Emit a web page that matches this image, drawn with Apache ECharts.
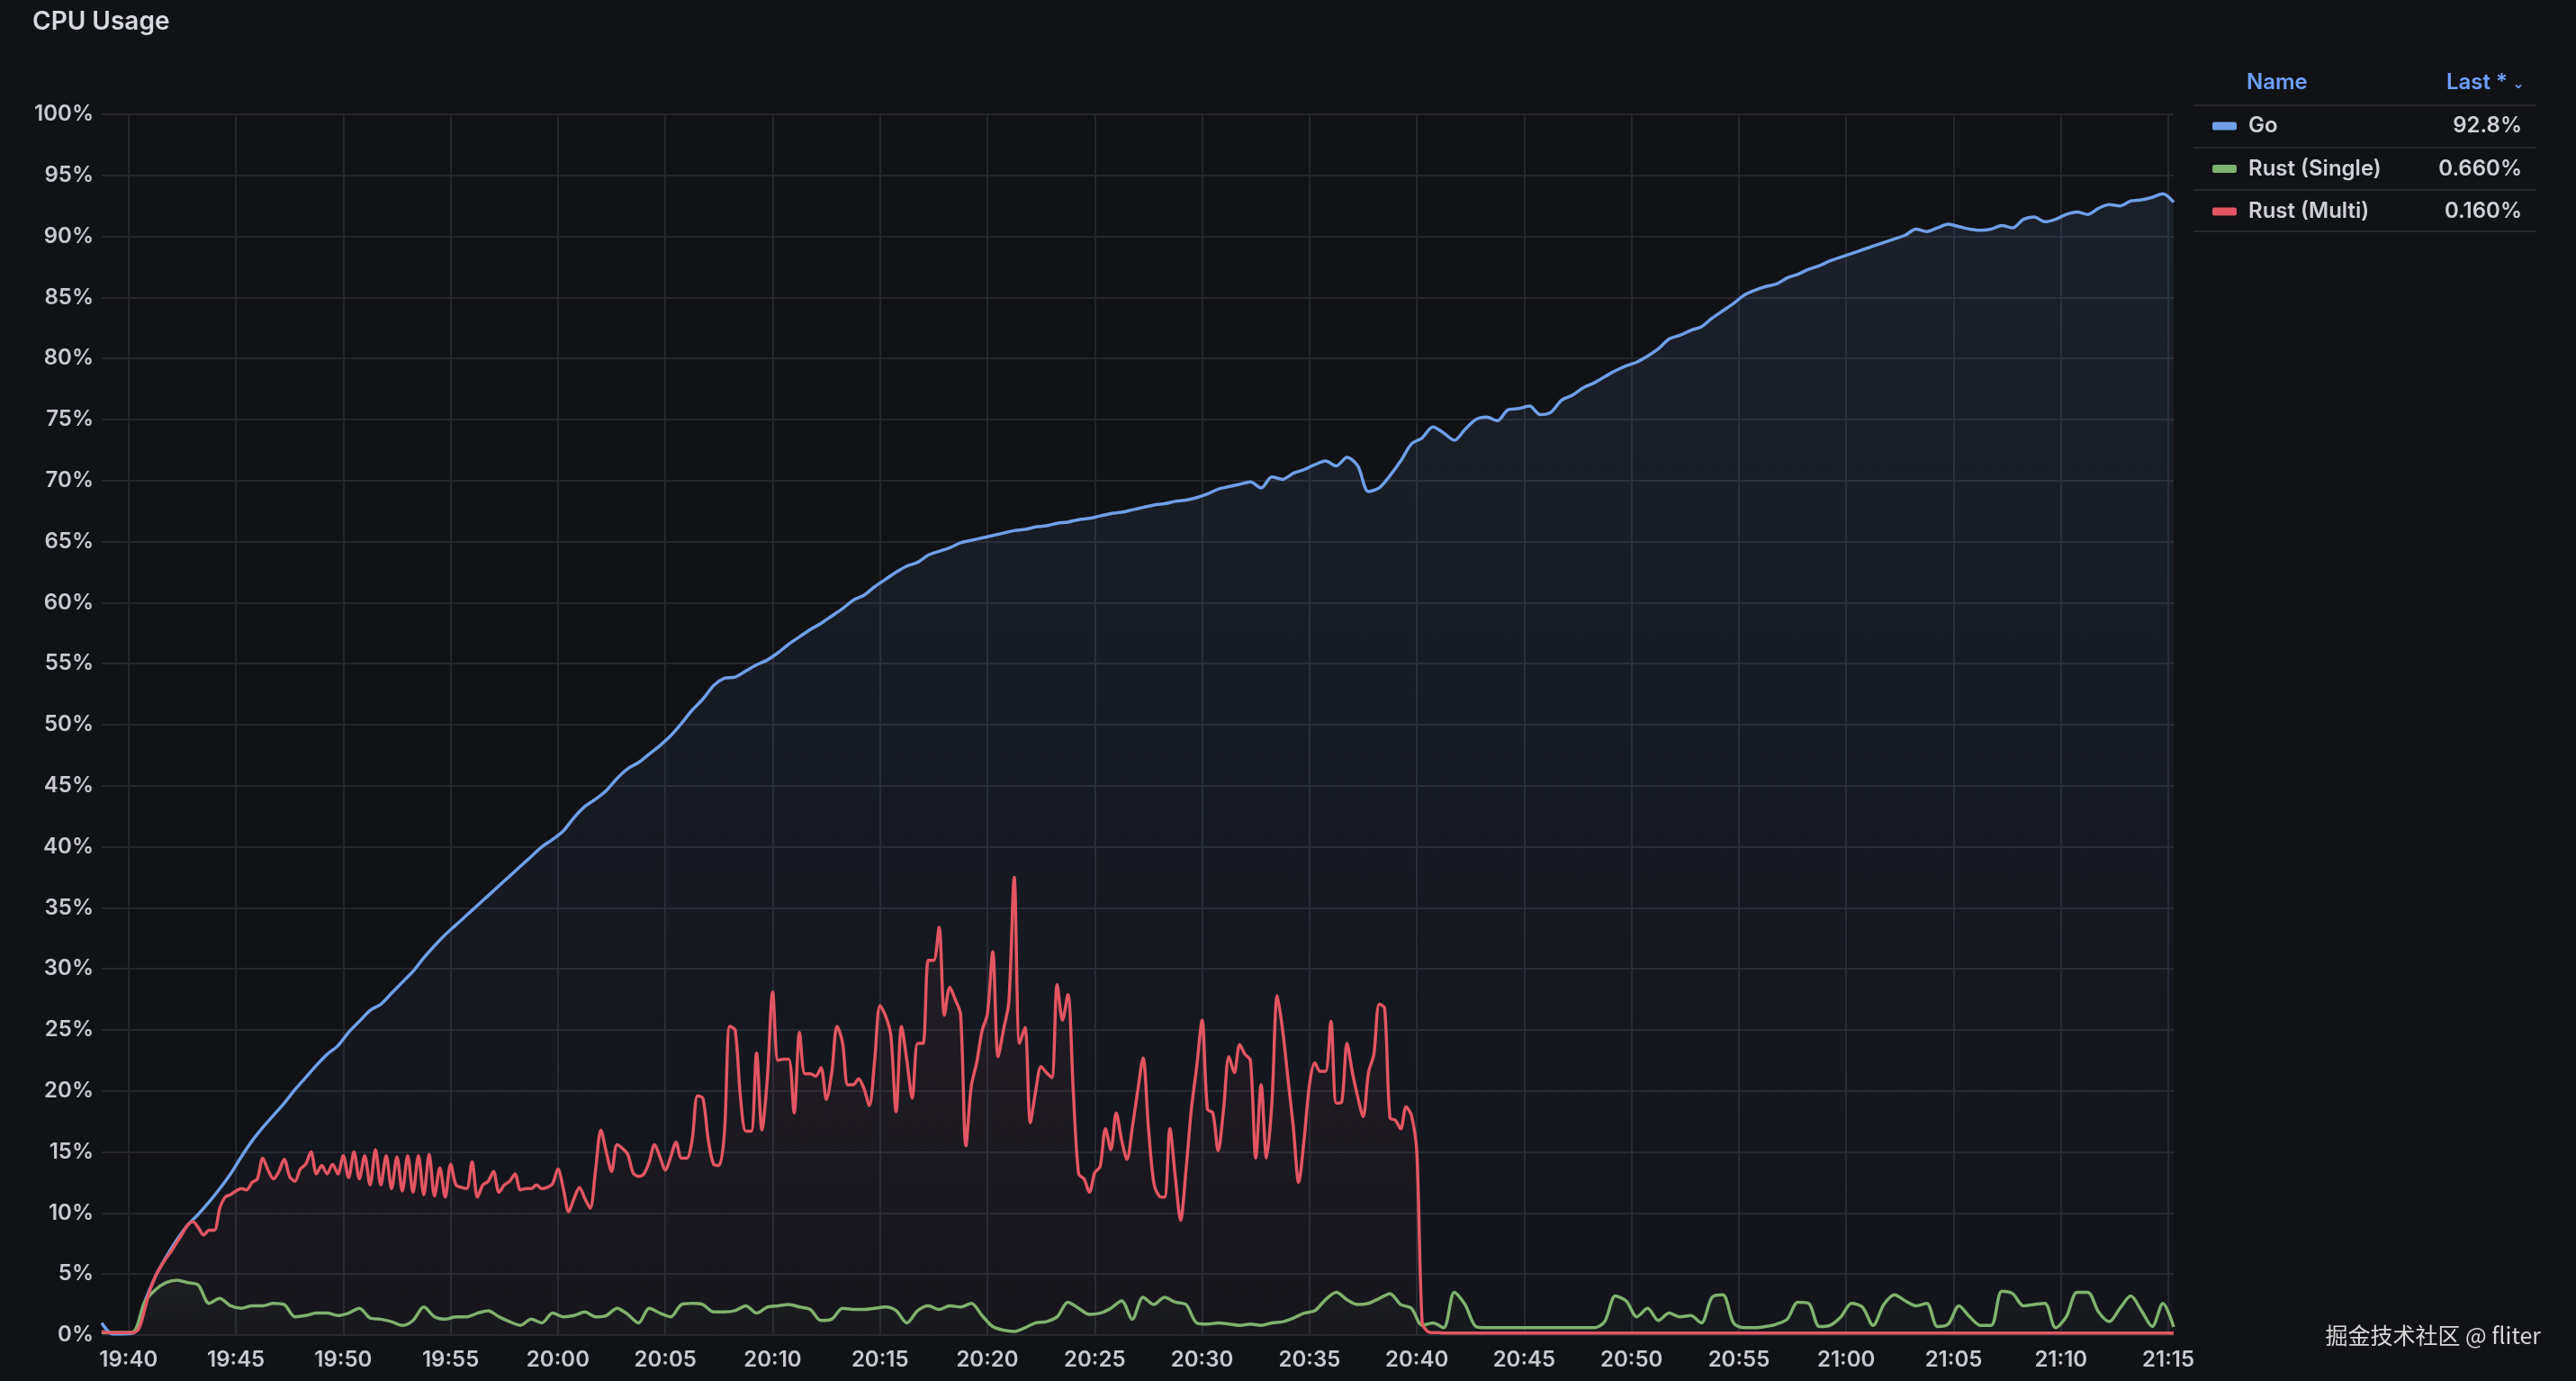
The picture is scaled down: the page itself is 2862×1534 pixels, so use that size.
<!DOCTYPE html>
<html>
<head>
<meta charset="utf-8">
<script src="https://cdn.jsdelivr.net/npm/echarts@6/dist/echarts.min.js"></script>
<style>
html,body{margin:0;padding:0;background:#111216;}
#chart{width:2862px;height:1534px;}
</style>
</head>
<body>
<div id="chart"></div>
<script>
// Series names and legend "Last" values
const seriesNames = ['Go', 'Rust (Single)', 'Rust (Multi)'];
const lastValues = ['92.8%', '0.660%', '0.160%'];

// X tick labels (every 5 minutes)
const xTickLabels = ['19:40','19:45','19:50','19:55','20:00','20:05','20:10','20:15','20:20','20:25',
  '20:30','20:35','20:40','20:45','20:50','20:55','21:00','21:05','21:10','21:15'];

// Go: one value every 30 s starting at 19:38:45 (percent)
const goValues = [
1.0,0.1,0.1,0.2,2.7,4.8,6.4,7.8,9.0,9.9,
10.9,12.0,13.2,14.6,15.9,17.0,18.0,19.0,20.1,21.1,
22.1,23.0,23.7,24.8,25.7,26.6,27.1,28.0,28.9,29.8,
30.9,31.9,32.8,33.6,34.4,35.2,36.0,36.8,37.6,38.4,
39.2,40.0,40.6,41.3,42.4,43.3,43.9,44.6,45.6,46.4,
46.9,47.6,48.3,49.1,50.1,51.2,52.1,53.2,53.8,53.9,
54.4,54.9,55.3,55.9,56.6,57.2,57.8,58.3,58.9,59.5,
60.2,60.6,61.3,61.9,62.5,63.0,63.3,63.9,64.2,64.5,
64.9,65.1,65.3,65.5,65.7,65.9,66.0,66.2,66.3,66.5,
66.6,66.8,66.9,67.1,67.3,67.4,67.6,67.8,68.0,68.1,
68.3,68.4,68.6,68.9,69.3,69.5,69.7,69.9,69.4,70.3,
70.1,70.6,70.9,71.3,71.6,71.2,71.9,71.2,69.1,69.4,
70.4,71.6,73.0,73.5,74.4,73.9,73.3,74.2,75.0,75.2,
74.9,75.8,75.9,76.1,75.4,75.6,76.6,77.0,77.6,78.0,
78.5,79.0,79.4,79.7,80.2,80.8,81.6,81.9,82.3,82.6,
83.3,83.9,84.5,85.2,85.6,85.9,86.1,86.6,86.9,87.3,
87.6,88.0,88.3,88.6,88.9,89.2,89.5,89.8,90.1,90.6,
90.4,90.7,91.0,90.8,90.6,90.5,90.6,90.9,90.7,91.4,
91.6,91.2,91.4,91.8,92.0,91.8,92.3,92.6,92.5,92.9,
93.0,93.2,93.5,92.8
];

// Rust (Single): one value every 30 s starting at 19:38:45
const singleValues = [
0.2,0.2,0.2,0.3,2.7,3.7,4.3,4.5,4.3,4.1,
2.6,3.0,2.4,2.2,2.4,2.4,2.6,2.5,1.5,1.6,
1.8,1.8,1.6,1.8,2.2,1.4,1.3,1.1,0.8,1.2,
2.3,1.5,1.3,1.5,1.5,1.8,2.0,1.5,1.1,0.8,
1.3,1.0,1.8,1.5,1.6,1.9,1.5,1.6,2.2,1.7,
1.0,2.2,1.8,1.5,2.5,2.6,2.5,1.9,1.9,2.0,
2.4,1.8,2.3,2.4,2.5,2.3,2.1,1.2,1.3,2.2,
2.1,2.1,2.2,2.3,2.0,1.0,2.0,2.4,2.1,2.4,
2.3,2.6,1.6,0.7,0.4,0.3,0.6,1.0,1.1,1.5,
2.7,2.2,1.7,1.8,2.2,2.8,1.3,3.1,2.5,3.1,
2.7,2.5,1.0,0.9,1.0,0.9,0.8,0.9,0.8,1.0,
1.1,1.4,1.8,2.0,2.9,3.5,2.9,2.5,2.6,3.0,
3.4,2.5,2.2,0.8,1.0,0.6,3.5,2.5,0.7,0.6,
0.6,0.6,0.6,0.6,0.6,0.6,0.6,0.6,0.6,0.6,
1.1,3.2,2.8,1.5,2.2,1.2,1.8,1.5,1.6,1.0,
3.1,3.3,1.0,0.6,0.6,0.7,0.9,1.3,2.7,2.6,
0.7,0.8,1.5,2.6,2.3,0.8,2.5,3.3,2.8,2.4,
2.6,0.7,0.9,2.4,1.5,0.8,0.8,3.6,3.4,2.4,
2.5,2.6,0.6,1.5,3.5,3.5,1.9,1.1,2.2,3.2,
2.0,0.7,2.6,0.66
];

// Rust (Multi): one value every 15 s from 19:38:45 to 20:41:00
const multiValues = [
0.3,0.2,0.2,0.2,0.2,0.2,0.2,0.6,2.1,3.7,
4.8,5.6,6.3,6.9,7.6,8.3,9.0,9.3,8.8,8.2,
8.6,8.6,10.4,11.3,11.5,11.8,12.0,11.9,12.5,12.8,
14.5,13.5,12.8,13.4,14.4,13.0,12.6,13.6,14.0,15.0,
13.2,13.9,13.2,14.0,13.2,14.7,12.9,15.0,12.8,14.7,
12.3,15.2,12.3,14.7,12.0,14.6,11.8,14.7,11.7,14.7,
11.5,14.8,11.4,13.7,11.3,14.0,12.3,12.1,12.0,14.2,
11.3,12.3,12.6,13.4,11.7,12.3,12.6,13.2,11.9,12.0,
12.0,12.3,12.0,12.1,12.4,13.6,12.0,10.1,11.2,12.1,
11.2,10.4,13.5,16.8,15.0,13.4,15.6,15.3,14.8,13.3,
13.0,13.2,14.2,15.6,14.6,13.5,14.6,15.8,14.5,14.5,
16.0,19.6,19.4,16.0,14.0,13.9,16.5,25.3,25.0,19.5,
16.7,16.7,23.1,16.8,21.0,28.1,22.5,22.6,22.6,18.2,
24.8,21.4,21.4,21.2,21.9,19.3,21.5,25.3,24.0,20.5,
20.5,21.0,20.2,18.8,22.5,27.0,26.2,24.6,18.3,25.3,
22.5,19.4,23.9,23.9,30.7,30.7,33.4,26.2,28.5,27.5,
26.3,15.5,20.4,22.3,24.9,26.3,31.4,22.8,25.0,27.3,
37.5,23.9,25.2,17.4,20.0,22.0,21.5,21.1,28.7,25.8,
27.9,20.0,13.2,12.8,11.7,13.3,13.8,16.9,15.2,18.2,
16.0,14.4,17.0,20.0,22.7,17.0,12.5,11.4,11.3,16.9,
13.0,9.4,13.5,18.5,22.0,25.8,18.5,18.2,15.1,18.5,
22.8,21.5,23.8,23.0,22.5,14.5,20.5,14.5,19.0,27.8,
25.0,21.0,17.0,12.5,16.0,20.5,22.3,21.6,21.6,25.7,
19.0,19.1,23.9,21.5,19.5,17.9,21.5,23.0,27.1,26.8,
17.8,17.6,16.9,18.7,18.0,15.0,1.0,0.3,0.2,0.2
];
// Rust (Multi) after the drop: one value per minute from 20:41:15 to 21:15:15
const multiTailValues = [
0.16,0.16,0.16,0.16,0.16,0.16,0.16,0.16,0.16,0.16,
0.16,0.16,0.16,0.16,0.16,0.16,0.16,0.16,0.16,0.16,
0.16,0.16,0.16,0.16,0.16,0.16,0.16,0.16,0.16,0.16,
0.16,0.16,0.16,0.16,0.16
];

// X is expressed in minutes relative to 19:40
const X_START = -1.25;   // 19:38:45
const X_TAIL = 61.25;    // 20:41:15
const X_END = 95.25;     // 21:15:15
const xTickValues = xTickLabels.map((l, i) => i * 5);

const goData = goValues.map((v, i) => [X_START + i * 0.5, v]);
const singleData = singleValues.map((v, i) => [X_START + i * 0.5, v]);
const multiData = multiValues.map((v, i) => [X_START + i * 0.25, v])
  .concat(multiTailValues.map((v, i) => [X_TAIL + i, v]));

const colors = ['#6f9fe8', '#7fb26f', '#e35563'];
const FONT = 'Inter';
const labelColor = '#c8c9d1';
const gridColor = '#24262c';

function grad(r, g, b, a0, a1) {
  return new echarts.graphic.LinearGradient(0, 0, 0, 1, [
    { offset: 0, color: `rgba(${r},${g},${b},${a0})` },
    { offset: 1, color: `rgba(${r},${g},${b},${a1})` }
  ]);
}

const chart = echarts.init(document.getElementById('chart'), null, { renderer: 'canvas' });
const lastMap = {};
seriesNames.forEach((n, i) => lastMap[n] = lastValues[i]);

chart.setOption({
  backgroundColor: '#111216',
  animation: false,
  color: colors,
  title: {
    text: 'CPU Usage', left: 31, top: 5,
    textStyle: { color: '#d8d9e0', fontFamily: FONT, fontSize: 28, fontWeight: 600, lineHeight: 30 }
  },
  grid: { left: 113, right: 447, top: 127, bottom: 51, containLabel: false },
  xAxis: {
    type: 'value', min: X_START, max: X_END,
    axisLine: { show: false },
    axisTick: { show: false, customValues: xTickValues },
    splitLine: { show: true, lineStyle: { color: gridColor, width: 2 } },
    axisLabel: {
      customValues: xTickValues,
      showMinLabel: true, showMaxLabel: true, hideOverlap: false,
      color: labelColor, fontFamily: FONT, fontSize: 24, fontWeight: 600, margin: 16,
      formatter: v => { const i = Math.round(v / 5); return xTickLabels[i] || ''; }
    }
  },
  yAxis: {
    type: 'value', min: 0, max: 100, interval: 5,
    axisLine: { show: false }, axisTick: { show: false },
    splitLine: { show: true, lineStyle: { color: gridColor, width: 2 } },
    axisLabel: { color: labelColor, fontFamily: FONT, fontSize: 24, fontWeight: 600, margin: 9, formatter: '{value}%' }
  },
  legend: {
    orient: 'vertical', left: 2453, top: 123,
    itemWidth: 27, itemHeight: 9, itemGap: 23.5, icon: 'roundRect',
    selectedMode: false,
    data: seriesNames,
    formatter: name => `{n|${name}}{v|${lastMap[name]}}`,
    textStyle: {
      color: '#d0d1d8', fontFamily: FONT, fontSize: 24, fontWeight: 600, lineHeight: 24,
      rich: {
        n: { width: 197, padding: [0, 0, 0, 8], color: '#d0d1d8', fontFamily: FONT, fontSize: 24, fontWeight: 600 },
        v: { width: 107, align: 'right', color: '#d0d1d8', fontFamily: FONT, fontSize: 24, fontWeight: 600 }
      }
    }
  },
  graphic: [
    { type: 'text', x: 2496, y: 92, style: { text: 'Name', fill: '#6e9fff', font: '600 24px Inter', align: 'left', verticalAlign: 'middle' } },
    { type: 'text', x: 2786, y: 92, style: { text: 'Last *', fill: '#6e9fff', font: '600 24px Inter', align: 'right', verticalAlign: 'middle' } },
    { type: 'text', x: 2798, y: 94, style: { text: '⌄', fill: '#6e9fff', font: '600 16px "DejaVu Sans"', align: 'center', verticalAlign: 'middle' } },
    { type: 'line', shape: { x1: 2437, y1: 117, x2: 2818, y2: 117 }, style: { stroke: gridColor, lineWidth: 2 } },
    { type: 'line', shape: { x1: 2437, y1: 164, x2: 2818, y2: 164 }, style: { stroke: gridColor, lineWidth: 2 } },
    { type: 'line', shape: { x1: 2437, y1: 211, x2: 2818, y2: 211 }, style: { stroke: gridColor, lineWidth: 2 } },
    { type: 'line', shape: { x1: 2437, y1: 257, x2: 2818, y2: 257 }, style: { stroke: gridColor, lineWidth: 2 } },
    { type: 'text', x: 2823, y: 1483, style: { text: '掘金技术社区 @ fliter', fill: 'rgba(232,232,232,0.92)', font: '400 25px "Noto Sans CJK SC"', align: 'right', verticalAlign: 'middle' } }
  ],
  series: [
    {
      name: 'Go', type: 'line', data: goData, showSymbol: false, smooth: 0.3,
      lineStyle: { width: 3.5, color: colors[0] }, itemStyle: { color: colors[0] },
      areaStyle: { color: grad(111, 159, 232, 0.14, 0.03) }, z: 2
    },
    {
      name: 'Rust (Single)', type: 'line', data: singleData, showSymbol: false, smooth: 0.3,
      lineStyle: { width: 3.5, color: colors[1] }, itemStyle: { color: colors[1] },
      areaStyle: { color: grad(127, 178, 111, 0.08, 0.02) }, z: 3
    },
    {
      name: 'Rust (Multi)', type: 'line', data: multiData, showSymbol: false, smooth: 0.3,
      lineStyle: { width: 3.5, color: colors[2] }, itemStyle: { color: colors[2] },
      areaStyle: { color: grad(227, 85, 99, 0.10, 0.02) }, z: 4
    }
  ]
});
</script>
</body>
</html>
